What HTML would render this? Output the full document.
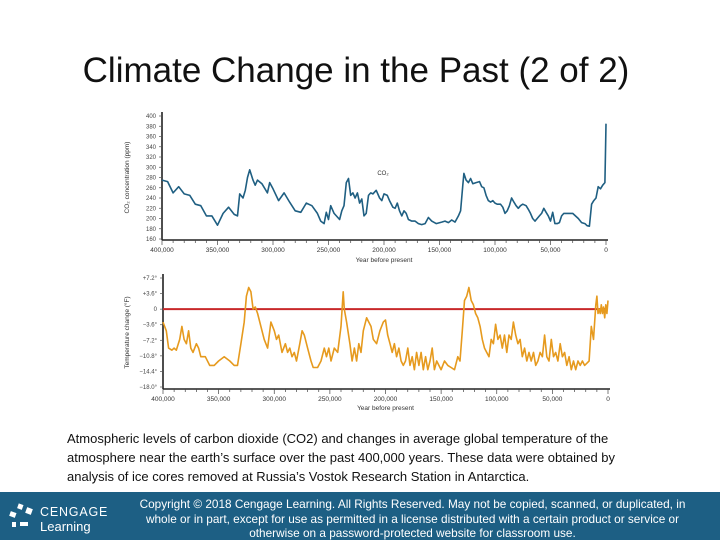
<!DOCTYPE html>
<html><head><meta charset="utf-8"><style>
html,body{margin:0;padding:0;width:720px;height:540px;overflow:hidden;background:#fff;font-family:"Liberation Sans",sans-serif}
#title{position:absolute;left:0;width:712px;top:51px;text-align:center;font-size:35px;color:#111}
#caption{position:absolute;left:67px;top:429px;width:588px;font-size:13px;line-height:19px;color:#111}
#footer{position:absolute;left:0;top:492px;width:720px;height:48px;background:#1d5f84;color:#fff}
#copy{position:absolute;left:130px;width:565px;top:5px;text-align:center;font-size:11.8px;line-height:14.5px}
#logo{position:absolute;left:8px;top:8px}
</style></head><body>
<div id="title">Climate Change in the Past (2 of 2)</div>
<svg id="chart" width="720" height="540" style="position:absolute;left:0;top:0"></svg>
<div id="caption">Atmospheric levels of carbon dioxide (CO2) and changes in average global temperature of the atmosphere near the earth’s surface over the past 400,000 years. These data were obtained by analysis of ice cores removed at Russia’s Vostok Research Station in Antarctica.</div>
<div id="footer">
<div id="logo"><svg width="112" height="34"><g fill="#fff"><rect x="10" y="4" width="5" height="5" transform="rotate(20 12 6)"/><rect x="18" y="8" width="6" height="6" transform="rotate(20 21 11)"/><rect x="2" y="12" width="6" height="5" transform="rotate(20 5 14)"/><rect x="4" y="22" width="4" height="5"/><rect x="12" y="22" width="8" height="4"/></g><text x="32" y="16" fill="#fff" font-size="12.5" font-family="Liberation Sans" letter-spacing="0.8">CENGAGE</text><text x="32" y="31" fill="#fff" font-size="13" font-family="Liberation Sans">Learning</text></svg></div>
<div id="copy">Copyright © 2018 Cengage Learning. All Rights Reserved. May not be copied, scanned, or duplicated, in whole or in part, except for use as permitted in a license distributed with a certain product or service or otherwise on a password-protected website for classroom use.</div>
</div>
<script>
const co2Years=[400,395,390,385,380,375,370,365,360,355,350,345,340,335,332,330,327,325,323,321,318,316,314,310,305,303,300,295,290,285,280,275,270,265,260,257,254,252,250,248,245,240,238,236,234,232,230,228,226,224,222,220,218,216,214,212,210,207,204,202,200,197,195,192,190,188,186,184,182,180,178,175,172,169,166,163,160,157,153,148,145,142,139,136,133,131,129,128,126,124,122,120,117,114,112,110,108,106,104,102,100,98,95,93,91,89,87,85,83,81,79,77,75,72,70,68,66,64,62,60,58,56,54,52,50,48,46,44,42,40,38,35,30,25,22,19,17,15,13,11,9,7,5,3,1,0.5,0];
const co2Values=[275,272,250,262,248,245,228,225,205,205,187,210,222,208,205,248,240,255,280,295,275,265,275,268,250,270,258,235,250,232,215,212,230,225,210,195,190,212,198,225,210,198,215,225,270,278,245,250,240,250,230,238,205,210,245,250,248,255,240,235,248,245,235,222,220,230,215,205,215,210,198,195,195,190,188,190,202,195,190,193,195,192,197,193,205,215,265,288,275,270,278,268,270,272,262,260,245,235,232,235,230,228,228,222,210,215,225,240,232,225,220,225,228,225,218,210,200,195,200,205,210,220,212,205,195,212,190,190,192,205,210,210,210,200,192,190,186,185,228,235,240,262,258,265,270,320,385];
const tempYears=[400,397,395,392,390,388,385,383,381,379,377,375,373,370,368,366,362,358,354,350,345,340,336,333,330,327,325,323,321,319,317,315,312,309,306,303,300,298,296,293,290,288,286,284,282,280,277,275,273,270,267,265,261,258,255,253,251,249,246,243,240,238,237,235,232,230,228,226,224,222,220,217,215,213,211,208,205,202,200,198,196,194,192,190,188,186,184,182,180,178,176,174,172,170,168,166,164,162,160,158,156,154,152,150,147,144,141,138,135,133,131,129,127,125,123,121,119,117,115,113,111,109,107,105,103,101,99,97,95,93,91,89,87,85,83,81,79,77,75,73,71,69,67,65,63,61,59,57,55,53,51,49,47,45,43,41,39,37,35,33,31,29,27,25,23,21,19,17,15,13,11,10,9,8,7,6,5,4,3,2,1,0];
const tempValues=[-3,-5,-9,-9.5,-9,-9.5,-7,-4,-7,-8,-5,-9,-10,-8,-9,-11,-11,-13,-13,-12,-11,-12,-13,-13,-8,-3,3,5,4,0,0.5,-1,-4,-7,-9,-3,-5,-7,-6,-10,-8,-10,-9,-11,-10,-12,-8,-5,-6,-9,-12,-13.5,-13.5,-12,-9,-11,-9,-12,-9,-10,-4,4,0,-3,-8,-12,-9,-12,-8,-10,-5,-2,-3,-4,-7,-8,-5,-3,-2.5,-6,-8,-10,-8,-11,-9,-12,-13,-12,-9,-13,-11,-14,-10,-13,-10,-14,-11,-14,-12,-9,-14,-12,-13,-14,-12,-13,-13.5,-14,-11,-12,-5,2,3,5,2,1,-1,-2,-4,-7,-9,-10,-11,-7,-8,-3.5,-7,-6,-9,-6,-10,-6,-7,-3,-6,-8,-7,-11,-9,-12,-10,-12,-10,-13,-12,-10,-11,-6,-11,-12,-7,-11,-10,-12,-8,-11,-10,-13,-11,-14,-12,-14,-12,-13,-12,-13,-12.5,-12,-4,-7,1,3,-1,0,-1,1,-1,0.5,-2,1,-1,2];
const co2Ticks=[160,180,200,220,240,260,280,300,320,340,360,380,400];
const tempTicks=[7.2,3.6,0,-3.6,-7.2,-10.8,-14.4,-18];
const tempTickLabels=["+7.2°","+3.6°","0","−3.6°","−7.2°","−10.8°","−14.4°","−18.0°"];
const yearTicks=[400000,350000,300000,250000,200000,150000,100000,50000,0];
const yearTickLabels=["400,000","350,000","300,000","250,000","200,000","150,000","100,000","50,000","0"];

const svg=document.getElementById('chart');const NS='http://www.w3.org/2000/svg';
function mk(t,a,p){const e=document.createElementNS(NS,t);for(const k in a)e.setAttribute(k,a[k]);(p||svg).appendChild(e);return e;}
const P1={x0:162,x1:606,yTop:116,yBot:239,vTop:400,vBot:160,axisY:240};
const P2={x0:163,x1:608,yTop:278,yBot:387,vTop:7.2,vBot:-18,axisY:389};
function xs(P,yr){return P.x0+(400000-yr)/400000*(P.x1-P.x0);}
function ys(P,v){return P.yTop+(P.vTop-v)/(P.vTop-P.vBot)*(P.yBot-P.yTop);}
function txt(x,y,s,size,anchor,fill,name){const t=mk('text',{x:x,y:y,'font-size':size,'text-anchor':anchor||'start',fill:fill||'#333','font-family':'Liberation Sans'});t.textContent=s;

return t;}
function axes(P,ticks,labels,color,yTitle,titleY,xLabY,xTitleY){
 const g=mk('g',{});
 
 
 mk('line',{x1:P.x0,y1:P.yTop-4,x2:P.x0,y2:P.axisY,stroke:'#222','stroke-width':1.6},g);
 mk('line',{x1:P.x0,y1:P.axisY,x2:P.x1+2,y2:P.axisY,stroke:'#222','stroke-width':1.6},g);
 ticks.forEach((v,i)=>{const y=ys(P,v);mk('line',{x1:P.x0-3,y1:y,x2:P.x0,y2:y,stroke:'#555','stroke-width':0.7},g);
  txt(P.x0-6,y+2,labels[i],6,'end','#444','y-tick-label');});
 for(let yr=400000;yr>=0;yr-=10000){const x=xs(P,yr);mk('line',{x1:x,y1:P.axisY,x2:x,y2:P.axisY+(yr%50000==0?5:3),stroke:'#444','stroke-width':0.7},g);}
 yearTicks.forEach((yr,i)=>txt(xs(P,yr),xLabY,yearTickLabels[i],6.5,'middle','#333','x-tick-label'));
 txt((P.x0+P.x1)/2,xTitleY,'Year before present',6.5,'middle','#333','x-axis-title');
 const t=txt(0,0,yTitle,6.5,'middle','#333','y-axis-title');t.setAttribute('transform',`translate(${titleY},${(P.yTop+P.yBot)/2}) rotate(-90)`);
}
axes(P1,co2Ticks,co2Ticks.map(String),'#333','CO₂ concentration (ppm)',129,252,262);
axes(P2,tempTicks,tempTickLabels,'#333','Temperature change (°F)',129,401,410);
txt(383,175,'CO₂',6,'middle','#333','co2-series-label');
const zl=mk('line',{x1:P2.x0,y1:ys(P2,0),x2:P2.x1,y2:ys(P2,0),stroke:'#c8282a','stroke-width':2});


function series(P,years,vals,color,name){const d=years.map((y,i)=>(i?'L':'M')+xs(P,y*1000).toFixed(1)+','+ys(P,vals[i]).toFixed(1)).join('');
 const p=mk('path',{d:d,fill:'none',stroke:color,'stroke-width':1.6,'stroke-linejoin':'round'});
 
 }
series(P1,co2Years,co2Values,'#1f5f82','co2-line');
series(P2,tempYears,tempValues,'#e69a1e','temperature-line');
</script>
</body></html>
